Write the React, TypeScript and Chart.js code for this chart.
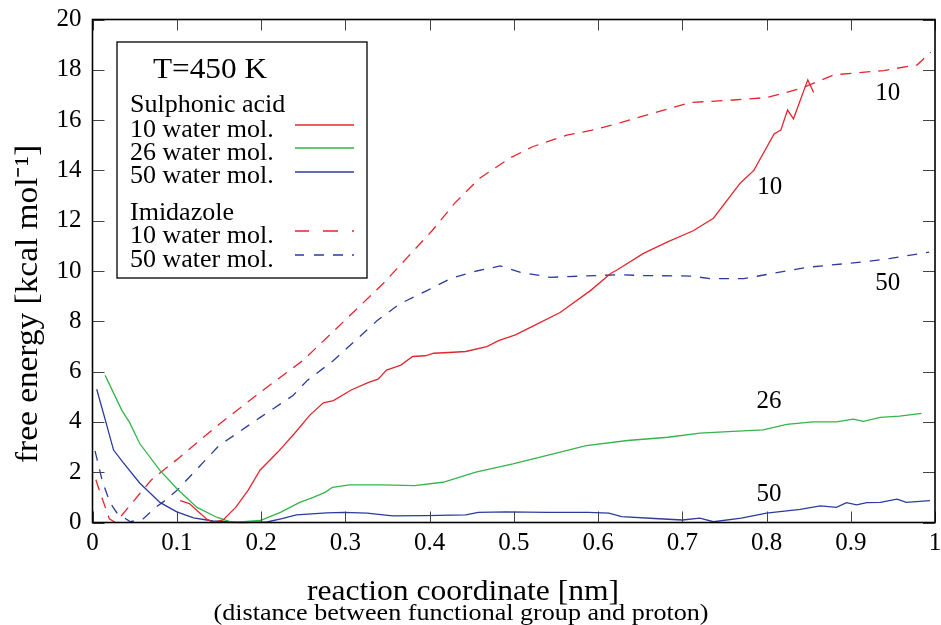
import React, { useEffect, useRef } from "react";
import { Chart, registerables } from "chart.js";

Chart.register(...registerables);

const FONT = "'Liberation Serif', 'Times New Roman', serif";
const RED = "#e3262e";
const GREEN = "#34b44b";
const BLUE = "#2b3c9b";

// Sulphonic acid, 10 water molecules
const sulph10X = [0.104, 0.115, 0.125, 0.135, 0.143, 0.155, 0.17, 0.185, 0.199, 0.22, 0.24, 0.258, 0.274, 0.286, 0.307, 0.327, 0.339, 0.349, 0.366, 0.38, 0.395, 0.405, 0.423, 0.443, 0.468, 0.482, 0.502, 0.524, 0.555, 0.591, 0.615, 0.623, 0.654, 0.682, 0.713, 0.737, 0.769, 0.785, 0.809, 0.817, 0.825, 0.832, 0.849, 0.856];
const sulph10Y = [0.87, 0.75, 0.45, 0.15, 0.0, 0.1, 0.6, 1.3, 2.09, 2.8, 3.55, 4.27, 4.76, 4.85, 5.27, 5.56, 5.7, 6.06, 6.26, 6.6, 6.63, 6.73, 6.76, 6.8, 6.99, 7.23, 7.46, 7.83, 8.35, 9.22, 9.9, 10.05, 10.7, 11.15, 11.6, 12.1, 13.5, 14.0, 15.45, 15.6, 16.4, 16.05, 17.6, 17.1];

// Sulphonic acid, 26 water molecules
const sulph26X = [0.015, 0.035, 0.044, 0.056, 0.08, 0.1, 0.124, 0.148, 0.167, 0.199, 0.223, 0.246, 0.262, 0.276, 0.285, 0.305, 0.344, 0.382, 0.416, 0.455, 0.499, 0.548, 0.586, 0.635, 0.683, 0.721, 0.76, 0.796, 0.824, 0.855, 0.883, 0.903, 0.915, 0.935, 0.958, 0.984];
const sulph26Y = [5.85, 4.45, 3.98, 3.14, 2.07, 1.35, 0.6, 0.2, 0.0, 0.08, 0.4, 0.8, 1.0, 1.2, 1.4, 1.5, 1.5, 1.47, 1.6, 2.0, 2.33, 2.74, 3.06, 3.26, 3.39, 3.55, 3.62, 3.68, 3.9, 4.0, 4.0, 4.11, 4.02, 4.18, 4.23, 4.34];

// Sulphonic acid, 50 water molecules
const sulph50X = [0.005, 0.015, 0.025, 0.036, 0.056, 0.08, 0.1, 0.12, 0.143, 0.175, 0.207, 0.225, 0.242, 0.278, 0.298, 0.326, 0.356, 0.395, 0.443, 0.458, 0.491, 0.54, 0.589, 0.613, 0.628, 0.667, 0.7, 0.721, 0.737, 0.77, 0.8, 0.84, 0.864, 0.883, 0.895, 0.907, 0.919, 0.935, 0.955, 0.966, 0.994];
const sulph50Y = [5.3, 4.1, 2.88, 2.4, 1.57, 0.8, 0.42, 0.18, 0.06, 0.0, 0.02, 0.15, 0.3, 0.38, 0.4, 0.37, 0.26, 0.27, 0.3, 0.4, 0.42, 0.4, 0.4, 0.37, 0.23, 0.16, 0.1, 0.17, 0.03, 0.17, 0.37, 0.52, 0.66, 0.6, 0.79, 0.7, 0.79, 0.8, 0.93, 0.8, 0.87];

// Imidazole, 10 water molecules
const imid10X = [0.004, 0.011, 0.02, 0.027, 0.035, 0.05, 0.07, 0.1, 0.15, 0.2, 0.25, 0.286, 0.345, 0.403, 0.43, 0.46, 0.496, 0.523, 0.563, 0.593, 0.627, 0.642, 0.71, 0.761, 0.801, 0.84, 0.88, 0.939, 0.979, 0.995];
const imid10Y = [1.7, 1.0, 0.15, 0.0, 0.3, 0.9, 1.7, 2.5, 3.9, 5.2, 6.45, 7.6, 9.5, 11.6, 12.7, 13.7, 14.5, 14.95, 15.4, 15.6, 15.9, 16.05, 16.7, 16.8, 16.9, 17.25, 17.8, 17.97, 18.2, 18.7];

// Imidazole, 50 water molecules
const imid50X = [0.003, 0.012, 0.021, 0.029, 0.045, 0.06, 0.074, 0.084, 0.1, 0.15, 0.2, 0.238, 0.255, 0.286, 0.338, 0.365, 0.397, 0.425, 0.456, 0.484, 0.508, 0.543, 0.583, 0.623, 0.654, 0.71, 0.733, 0.773, 0.849, 0.912, 0.947, 0.993];
const imid50Y = [2.85, 1.6, 0.78, 0.38, 0.03, 0.14, 0.58, 0.82, 1.27, 3.05, 4.2, 5.05, 5.65, 6.44, 8.03, 8.7, 9.22, 9.7, 10.0, 10.2, 9.95, 9.75, 9.8, 9.85, 9.82, 9.8, 9.7, 9.7, 10.15, 10.35, 10.5, 10.75];

// In-plot curve labels
const curveLabels = ["10", "10", "50", "26", "50"];
const curveLabelX = [0.944, 0.804, 0.944, 0.803, 0.803];
const curveLabelY = [17.08, 13.34, 9.52, 4.83, 1.13];

// Legend texts
const legendTitle = "T=450 K";
const legendGroups = ["Sulphonic acid", "Imidazole"];
const legendEntries = ["10 water mol.", "26 water mol.", "50 water mol.", "10 water mol.", "50 water mol."];

const xTitle = "reaction coordinate [nm]";
const xSubtitle = "(distance between functional group and proton)";
const yTitle = "free energy [kcal mol\u207B\u00B9]";

function pts(xs: number[], ys: number[]) {
  return xs.map((x, i) => ({ x, y: ys[i] }));
}

function stretchText(ctx: CanvasRenderingContext2D, text: string, size: number, width: number) {
  ctx.font = `${size}px ${FONT}`;
  const w = ctx.measureText(text).width;
  ctx.save();
  ctx.scale(width / w, 1);
  ctx.textAlign = "center";
  ctx.textBaseline = "alphabetic";
  ctx.fillText(text, 0, 0);
  ctx.restore();
}

const overlay = {
  id: "overlay",
  afterDraw(chart: any) {
    const { ctx, chartArea: a, scales } = chart;
    const xs = scales.x;
    const ys = scales.y;
    ctx.save();

    // inward tick marks
    ctx.strokeStyle = "#444";
    ctx.lineWidth = 1;
    ctx.beginPath();
    for (const t of ys.ticks) {
      const py = Math.round(ys.getPixelForValue(t.value)) + 0.5;
      ctx.moveTo(a.left, py);
      ctx.lineTo(a.left + 12, py);
      ctx.moveTo(a.right, py);
      ctx.lineTo(a.right - 12, py);
    }
    for (const t of xs.ticks) {
      const px = Math.round(xs.getPixelForValue(t.value)) + 0.5;
      ctx.moveTo(px, a.top);
      ctx.lineTo(px, a.top + 11);
      ctx.moveTo(px, a.bottom);
      ctx.lineTo(px, a.bottom - 11);
    }
    ctx.stroke();

    // frame
    ctx.strokeStyle = "#000";
    ctx.lineWidth = 1.6;
    ctx.strokeRect(a.left, a.top, a.right - a.left, a.bottom - a.top);

    // curve labels
    ctx.fillStyle = "#000";
    ctx.font = `25px ${FONT}`;
    ctx.textAlign = "center";
    ctx.textBaseline = "middle";
    curveLabels.forEach((s, i) => {
      ctx.fillText(s, xs.getPixelForValue(curveLabelX[i]), ys.getPixelForValue(curveLabelY[i]));
    });

    // legend box
    const lx = 117, ly = 42, lw = 250, lh = 236;
    ctx.fillStyle = "#fff";
    ctx.fillRect(lx, ly, lw, lh);
    ctx.strokeStyle = "#000";
    ctx.lineWidth = 1.3;
    ctx.strokeRect(lx, ly, lw, lh);

    ctx.fillStyle = "#000";
    ctx.save();
    ctx.translate(210, 78);
    stretchText(ctx, legendTitle, 30, 114);
    ctx.restore();

    ctx.font = `26px ${FONT}`;
    ctx.textAlign = "left";
    ctx.textBaseline = "alphabetic";
    ctx.fillText(legendGroups[0], 130, 112);
    ctx.fillText(legendEntries[0], 130, 137);
    ctx.fillText(legendEntries[1], 130, 160);
    ctx.fillText(legendEntries[2], 130, 183);
    ctx.fillText(legendGroups[1], 130, 220);
    ctx.fillText(legendEntries[3], 130, 243);
    ctx.fillText(legendEntries[4], 130, 267);

    const sample = (y: number, color: string, segs: number[][]) => {
      ctx.strokeStyle = color;
      ctx.lineWidth = 1.4;
      ctx.beginPath();
      for (const [s, e] of segs) {
        ctx.moveTo(s, y);
        ctx.lineTo(e, y);
      }
      ctx.stroke();
    };
    sample(125, RED, [[295, 354]]);
    sample(148, GREEN, [[295, 354]]);
    sample(172, BLUE, [[295, 354]]);
    sample(231, RED, [[295, 309], [323, 338], [352, 354]]);
    sample(255, BLUE, [[295, 304], [314, 324], [333, 343], [352, 354]]);

    // axis titles
    ctx.fillStyle = "#000";
    ctx.save();
    ctx.translate(463, 600);
    stretchText(ctx, xTitle, 29, 312);
    ctx.restore();
    ctx.save();
    ctx.translate(461, 620);
    stretchText(ctx, xSubtitle, 23, 495);
    ctx.restore();
    ctx.save();
    ctx.translate(37, 304);
    ctx.rotate(-Math.PI / 2);
    stretchText(ctx, yTitle, 32, 318);
    ctx.restore();

    ctx.restore();
  },
};

export default function App() {
  const ref = useRef<HTMLCanvasElement>(null);
  useEffect(() => {
    const canvas = ref.current as HTMLCanvasElement;
    const base = { borderWidth: 1.3, pointRadius: 0, fill: false, tension: 0, clip: false as any };
    const chart = new Chart(canvas, {
      type: "line",
      data: {
        datasets: [
          { ...base, label: "Sulphonic acid 10", data: pts(sulph10X, sulph10Y), borderColor: RED },
          { ...base, label: "Sulphonic acid 26", data: pts(sulph26X, sulph26Y), borderColor: GREEN },
          { ...base, label: "Sulphonic acid 50", data: pts(sulph50X, sulph50Y), borderColor: BLUE },
          { ...base, label: "Imidazole 10", data: pts(imid10X, imid10Y), borderColor: RED, borderDash: [11, 8] },
          { ...base, label: "Imidazole 50", data: pts(imid50X, imid50Y), borderColor: BLUE, borderDash: [10, 9] },
        ],
      },
      options: {
        animation: false,
        responsive: false,
        events: [],
        layout: { padding: { left: 0, top: 19.5, right: 6, bottom: 0 } },
        plugins: { legend: { display: false }, tooltip: { enabled: false } },
        scales: {
          x: {
            type: "linear",
            min: 0,
            max: 1,
            ticks: {
              stepSize: 0.1,
              autoSkip: false,
              maxRotation: 0,
              color: "#000",
              padding: 6,
              font: { family: FONT, size: 25 },
              callback: (v: any) => String(Math.round(Number(v) * 10) / 10),
            },
            grid: { display: false, drawTicks: false },
            border: { display: false },
            afterFit: (s: any) => {
              s.height = 102.5;
              s.paddingLeft = 0;
              s.paddingRight = 0;
            },
          },
          y: {
            type: "linear",
            min: 0,
            max: 20,
            ticks: {
              stepSize: 2,
              color: "#000",
              padding: 11,
              font: { family: FONT, size: 25 },
              callback: (v: any) => String(Math.round(Number(v))),
            },
            grid: { display: false, drawTicks: false },
            border: { display: false },
            afterFit: (s: any) => {
              s.width = 92.5;
              s.paddingTop = 0;
              s.paddingBottom = 0;
            },
          },
        },
      },
      plugins: [overlay],
    } as any);
    return () => chart.destroy();
  }, []);
  return (
    <div style={{ position: "fixed", left: 0, top: 0, width: 941, height: 625, background: "#fff" }}>
      <canvas ref={ref} width={941} height={625} style={{ display: "block" }} />
    </div>
  );
}
